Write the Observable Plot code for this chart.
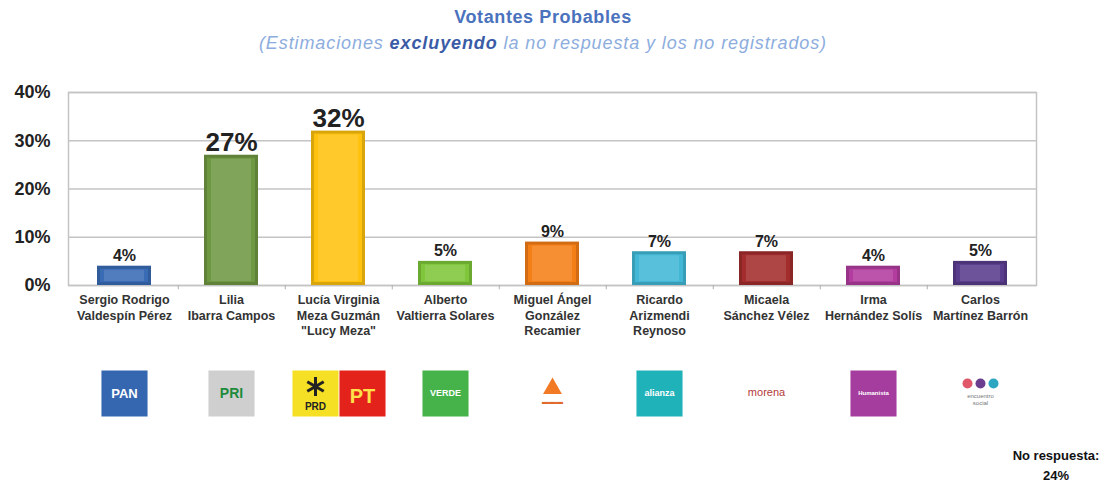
<!DOCTYPE html>
<html><head><meta charset="utf-8">
<script src="https://cdn.jsdelivr.net/npm/d3@7"></script>
<script src="https://cdn.jsdelivr.net/npm/@observablehq/plot@0.6"></script>
<style>
body{margin:0;background:#fff;width:1116px;height:486px;overflow:hidden;position:relative;font-family:"Liberation Sans",Arial,sans-serif}
#title{position:absolute;left:0;width:1086px;top:6px;text-align:center;font-size:18px;letter-spacing:0.6px;line-height:22px;font-weight:bold;color:#4a72bd}
#sub{position:absolute;left:0;width:1086px;top:33px;text-align:center;font-size:18px;letter-spacing:0.9px;line-height:20px;font-style:italic;color:#8cadde}
#sub b{color:#3a5ba5}
#chart{position:absolute;left:0;top:60px}
#nr{position:absolute;left:996px;width:120px;top:446px;text-align:center;font-size:13px;line-height:20px;font-weight:bold;color:#111}
</style></head>
<body>
<div id="title">Votantes Probables</div>
<div id="sub">(Estimaciones <b>excluyendo</b> la no respuesta y los no registrados)</div>
<div id="chart"></div>
<div id="nr">No respuesta:<br>24%</div>
<script>
const candidatos = [
  "Sergio Rodrigo\nValdespín Pérez",
  "Lilia\nIbarra Campos",
  "Lucía Virginia\nMeza Guzmán\n\"Lucy Meza\"",
  "Alberto\nValtierra Solares",
  "Miguel Ángel\nGonzález\nRecamier",
  "Ricardo\nArizmendi\nReynoso",
  "Micaela\nSánchez Vélez",
  "Irma\nHernández Solís",
  "Carlos\nMartínez Barrón"
];
const valores = [4, 27, 32, 5, 9, 7, 7, 4, 5];
const colores = ["#3a6cb6", "#6f9842", "#ffc20e", "#7fc63a", "#f57f17", "#42b8d6", "#a32d2d", "#b23d9f", "#593c8c"];
const yTicks = [0, 10, 20, 30, 40];

const data = candidatos.map((c, i) => ({cand: c, v: valores[i], color: colores[i], dark: d3.color(colores[i]).darker(0.45).formatHex()}));

// logo decorations under each candidate (centre, left and right of PRD+PT)
const logosC = [
  {c: 0, fill: "#3566b0", label: "PAN", tc: "#fff", fs: 13},
  {c: 1, fill: "#cfcfcf", label: "PRI", tc: "#1e8b3c", fs: 14},
  {c: 3, fill: "#45b34a", label: "VERDE", tc: "#fff", fs: 9},
  {c: 5, fill: "#20b2b9", label: "alianza", tc: "#fff", fs: 9},
  {c: 7, fill: "#a53d9f", label: "Humanista", tc: "#fff", fs: 6}
].map(d => ({...d, cand: candidatos[d.c]}));
const logoPRD = [{cand: candidatos[2], fill: "#f5e025", label: "PRD", tc: "#222", fs: 10}];
const logoPT = [{cand: candidatos[2], fill: "#e3231b", label: "PT", tc: "#ffe14a", fs: 20}];

const step = (1116 - 68 - 80) / 9;
const logoDy = 108;

const plot = Plot.plot({
  width: 1116,
  height: 426,
  marginLeft: 68,
  marginRight: 80,
  marginTop: 32,
  marginBottom: 201,
  style: {fontFamily: "'Liberation Sans', Arial, sans-serif", background: "#fff"},
  x: {domain: candidatos, paddingInner: 0.5, paddingOuter: 0.25, axis: null},
  y: {domain: [0, 40], axis: null},
  marks: [
    Plot.gridY(yTicks, {stroke: "#c4c4c4", strokeOpacity: 1, strokeWidth: 1.5}),
    Plot.frame({stroke: "#c4c4c4", strokeWidth: 1.5}),
    Plot.axisY({ticks: yTicks, label: null, tickFormat: d => d + "%", tickSize: 0, tickPadding: 18, fontSize: 18, fontWeight: "bold", fill: "#222"}),
    Plot.ruleX(candidatos.slice(0, -1), {x: d => d, dx: step / 2, y1: 0, y2: -0.9, stroke: "#b0b0b0"}),
    Plot.barY(data, {x: "cand", y: "v", fill: "dark"}),
    Plot.barY(data, {x: "cand", y: "v", fill: "color", inset: 3}),
    Plot.barY(data, {x: "cand", y: "v", fill: "#fff", fillOpacity: 0.12, insetLeft: 7, insetRight: 7, insetTop: 4, insetBottom: 4}),
    Plot.text(data.filter(d => d.v >= 20), {x: "cand", y: "v", text: d => d.v + "%", dy: -4, lineAnchor: "bottom", fontSize: 26, fontWeight: "bold", fill: "#222"}),
    Plot.text(data.filter(d => d.v < 20), {x: "cand", y: "v", text: d => d.v + "%", dy: -5, lineAnchor: "bottom", fontSize: 16, fontWeight: "bold", fill: "#222"}),
    Plot.text(data, {x: "cand", y: 0, text: "cand", dy: 8, lineAnchor: "top", lineHeight: 1.22, fontSize: 12.5, fontWeight: "bold", fill: "#333"}),
    // logos
    Plot.dot(logosC, {x: "cand", y: 0, dy: logoDy, symbol: "square", r: 26, fill: "fill"}),
    Plot.text(logosC, {x: "cand", y: 0, dy: logoDy, text: "label", fill: "tc", fontSize: "fs", fontWeight: "bold"}),
    Plot.dot(logoPRD, {x: "cand", y: 0, dx: -23, dy: logoDy, symbol: "square", r: 26, fill: "fill"}),
    Plot.text(logoPRD, {x: "cand", y: 0, dx: -23, dy: logoDy + 13, text: "label", fill: "tc", fontSize: "fs", fontWeight: "bold"}),
    Plot.dot(logoPRD, {x: "cand", y: 0, dx: -23, dy: logoDy - 7, symbol: "asterisk", r: 9, stroke: "#222", strokeWidth: 3}),
    Plot.dot(logoPT, {x: "cand", y: 0, dx: 24, dy: logoDy, symbol: "square", r: 26, fill: "fill"}),
    Plot.text(logoPT, {x: "cand", y: 0, dx: 24, dy: logoDy + 3, text: "label", fill: "tc", fontSize: "fs", fontWeight: "bold"}),
    Plot.dot([candidatos[4]], {x: d => d, y: 0, dy: logoDy - 5, symbol: "triangle2", r: 9, fill: "#f27a24"}),
    Plot.text([candidatos[4]], {x: d => d, y: 0, dy: logoDy + 8, text: () => "▬▬▬", fontSize: 7, fill: "#e06a2a"}),
    Plot.text([candidatos[6]], {x: d => d, y: 0, dy: logoDy - 1, text: () => "morena", fontSize: 11, fill: "#b33a3a"}),
    Plot.dot([candidatos[8]], {x: d => d, y: 0, dx: -13, dy: logoDy - 10, r: 5, fill: "#e0576a"}),
    Plot.dot([candidatos[8]], {x: d => d, y: 0, dx: 0, dy: logoDy - 10, r: 5, fill: "#6a3d8f"}),
    Plot.dot([candidatos[8]], {x: d => d, y: 0, dx: 13, dy: logoDy - 10, r: 5, fill: "#2aa6c0"}),
    Plot.text([candidatos[8]], {x: d => d, y: 0, dy: logoDy + 6, text: () => "encuentro\nsocial", fontSize: 6, lineHeight: 1.2, fill: "#777"})
  ]
});
document.getElementById("chart").appendChild(plot);
</script>
</body></html>
